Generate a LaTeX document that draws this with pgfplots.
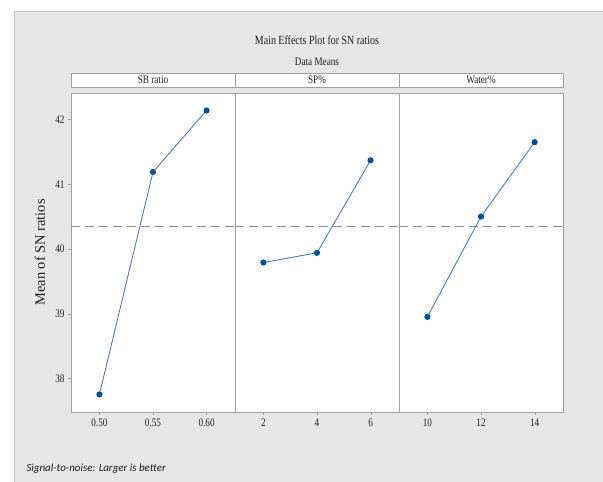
\documentclass[border=0pt]{standalone}
\usepackage{pgfplots}
\pgfplotsset{compat=1.18}
\usepackage{fontspec}
\setmainfont{Liberation Serif}[FakeStretch=0.8]
\newfontfamily\plainserif{Liberation Serif}
\newfontfamily\footfont{Carlito}
\definecolor{bg}{RGB}{230,230,230}
\definecolor{bgline}{RGB}{200,200,200}
\definecolor{frame}{RGB}{160,160,160}
\definecolor{linec}{RGB}{70,125,195}
\definecolor{markc}{RGB}{0,80,160}
\definecolor{meanc}{RGB}{140,140,140}
\definecolor{txt}{RGB}{30,30,30}
\begin{document}
\begin{tikzpicture}
\path[use as bounding box] (0bp,0bp) rectangle (603bp,482bp);
\fill[white] (0bp,0bp) rectangle (603bp,482bp);
\filldraw[fill=bg,draw=bgline] (14bp,-1bp) rectangle (604bp,471bp);
\node[txt] at (317bp,442bp) {\fontsize{12.5}{14}\selectfont Main Effects Plot for SN ratios};
\node[txt] at (317bp,420bp) {\fontsize{11.5}{13}\selectfont Data Means};
\pgfplotsset{
  panel/.style={
    scale only axis, width=164bp, height=319bp,
    ymin=37.48, ymax=42.41,
    axis background/.style={fill=white},
    axis line style={frame},
    tick style={frame},
    tick align=outside,
    major tick length=3bp,
    xtick pos=bottom, ytick pos=left,
    ticklabel style={font=\fontsize{11.5}{13}\selectfont, text=txt},
    /pgf/number format/assume math mode=true,
    title style={at={(0.5,1)}, anchor=south, draw=frame, fill=white,
      minimum width=164bp, minimum height=14bp, inner sep=0pt,
      font=\fontsize{11.5}{12}\selectfont, text=txt},
    anchor=south west,
  },
  mline/.style={draw=meanc, dash pattern=on 9bp off 5bp, line width=0.6pt},
  dline/.style={draw=linec, line width=0.9pt, mark=*, mark size=2.6bp,
    mark options={fill=markc, draw=markc, solid}},
}
\begin{axis}[panel, at={(71bp,70bp)}, title={SB ratio},
  xmin=0.4735, xmax=0.6265,
  xtick={0.5,0.55,0.6}, xticklabels={0.50,0.55,0.60},
  ytick={38,39,40,41,42},
  ylabel={Mean of SN ratios},
  ylabel style={at={(axis description cs:-0.19,0.5)}, anchor=center,
    font=\plainserif\fontsize{14.5}{16}\selectfont, text=txt}]
\addplot[mline] coordinates {(0.4735,40.35) (0.6265,40.35)};
\addplot[dline] coordinates {(0.50,37.75) (0.55,41.19) (0.60,42.14)};
\end{axis}
\begin{axis}[panel, at={(235bp,70bp)}, title={SP\%},
  xmin=0.94, xmax=7.06,
  xtick={2,4,6}, ytick=\empty]
\addplot[mline] coordinates {(0.94,40.35) (7.06,40.35)};
\addplot[dline] coordinates {(2,39.79) (4,39.94) (6,41.37)};
\end{axis}
\begin{axis}[panel, at={(399bp,70bp)}, title={Water\%},
  xmin=8.94, xmax=15.06,
  xtick={10,12,14}, ytick=\empty]
\addplot[mline] coordinates {(8.94,40.35) (15.06,40.35)};
\addplot[dline] coordinates {(10,38.95) (12,40.50) (14,41.65)};
\end{axis}
\node[anchor=west, text=txt] at (23bp,13bp) {\footfont\itshape\fontsize{11}{12}\selectfont Signal-to-noise: Larger is better};
\end{tikzpicture}
\end{document}
